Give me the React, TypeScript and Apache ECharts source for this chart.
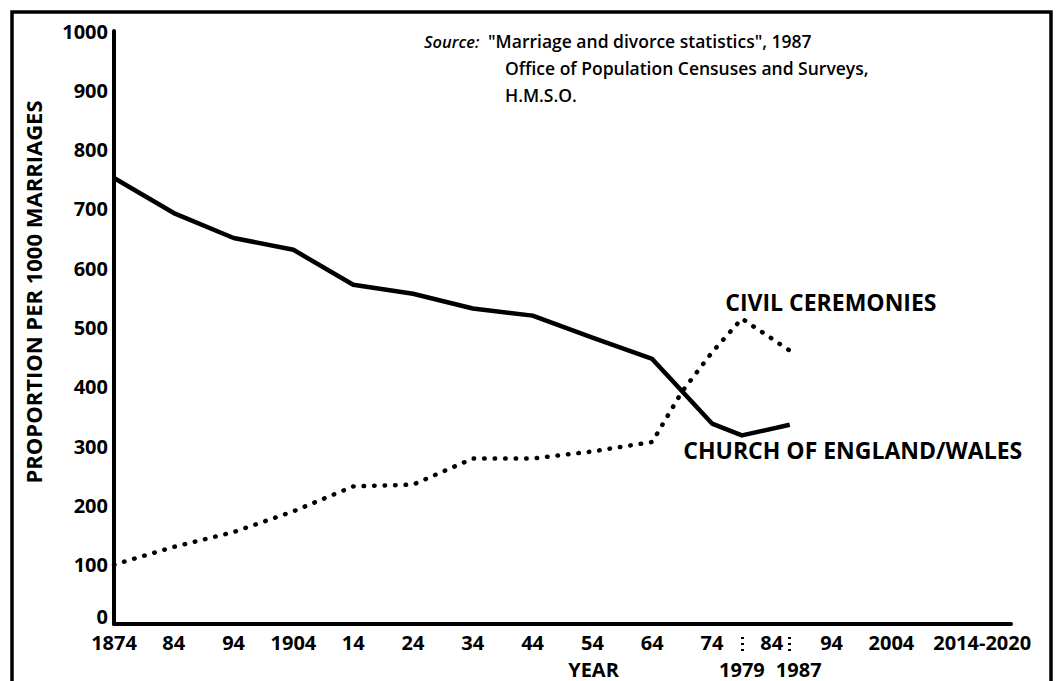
import React, { useEffect, useRef } from "react";
import * as echarts from "echarts";

const FONT = "'Open Sans', 'DejaVu Sans', sans-serif";

const churchYears = [1874, 1884, 1894, 1904, 1914, 1924, 1934, 1944, 1954, 1964, 1974, 1979, 1987];
const churchValues = [752, 693, 651, 631, 572, 557, 532, 520, 483, 447, 338, 318, 336];

const civilYears = [1874, 1884, 1894, 1904, 1914, 1924, 1934, 1944, 1954, 1964, 1969, 1974, 1979, 1987];
const civilValues = [100, 130, 155, 190, 232, 235, 279, 279, 291, 307, 392, 458, 515, 461];

const markedYears = [1979, 1987];
const yAxisTitle = "PROPORTION PER 1000 MARRIAGES";
const xAxisTitle = "YEAR";
const churchLabel = "CHURCH OF ENGLAND/WALES";
const civilLabel = "CIVIL CEREMONIES";
const sourceLabel = "Source:";
const sourceLines = [
  '"Marriage and divorce statistics", 1987',
  "Office of Population Censuses and Surveys,",
  "H.M.S.O.",
];

function tickLabel(v: number): string {
  if (v === 1874 || v === 1904 || v === 2004) return String(v);
  if (v === 2014) return "{w|2014-2020}";
  if (v > 2014) return "";
  return String(v % 100).padStart(2, "0");
}

export default function App() {
  const ref = useRef<HTMLDivElement>(null);
  useEffect(() => {
    document.body.style.margin = "0";
    const chart = echarts.init(ref.current!, null, { renderer: "svg" });
    const labelStyle = {
      color: "#000",
      fontFamily: FONT,
      fontWeight: "bold" as const,
      fontSize: 20,
      lineHeight: 16,
    };
    const church = churchYears.map((y, i) => {
      const item: any = { value: [y, churchValues[i]] };
      if (i === churchYears.length - 1) {
        item.label = {
          show: true,
          position: "bottom",
          offset: [63, 5],
          formatter: churchLabel,
          ...labelStyle,
          fontSize: 23,
          lineHeight: 30,
        };
      }
      return item;
    });
    const civil = civilYears.map((y, i) => {
      const item: any = { value: [y, civilValues[i]] };
      if (y === 1979) {
        item.label = {
          show: true,
          position: "top",
          offset: [89, 3],
          formatter: civilLabel,
          ...labelStyle,
          fontSize: 23,
          lineHeight: 30,
        };
      }
      return item;
    });
    const markAxis = (year: number, pad: number, withName: boolean) => ({
      type: "value",
      min: 1874,
      max: 2024,
      position: "bottom",
      offset: 13,
      axisLine: { show: false },
      splitLine: { show: false },
      axisTick: {
        show: true,
        customValues: [year],
        length: 18,
        lineStyle: { color: "#000", width: 3, type: [2, 4] },
      },
      axisLabel: {
        ...labelStyle,
        customValues: [year],
        margin: 24,
        showMinLabel: true,
        showMaxLabel: true,
        formatter: (v: number) => (pad ? `{r|${v}}` : String(v)),
        rich: { r: { ...labelStyle, padding: [0, 0, 0, pad] } },
      },
      ...(withName
        ? {
            name: xAxisTitle,
            nameLocation: "middle",
            nameGap: 24,
            nameMoveOverlap: false,
            nameTextStyle: { ...labelStyle, padding: [0, 0, 0, 62] },
          }
        : {}),
    });
    chart.setOption({
      animation: false,
      backgroundColor: "#fff",
      grid: { left: 114, right: 47, top: 31, bottom: 57, outerBoundsMode: "none", containLabel: false },
      xAxis: [
        {
          type: "value",
          min: 1874,
          max: 2024,
          interval: 10,
          axisLine: { show: true, lineStyle: { color: "#000", width: 4 } },
          axisTick: { show: false },
          splitLine: { show: false },
          axisLabel: {
            ...labelStyle,
            margin: 10,
            showMinLabel: true,
            showMaxLabel: true,
            formatter: tickLabel,
            rich: { w: { ...labelStyle, padding: [0, 0, 0, 62] } },
          },
        },
        markAxis(markedYears[0], 0, true),
        markAxis(markedYears[1], 18, false),
      ],
      yAxis: {
        type: "value",
        min: 0,
        max: 1000,
        interval: 100,
        axisLine: { show: true, lineStyle: { color: "#000", width: 4 } },
        axisTick: { show: false },
        splitLine: { show: false },
        axisLabel: {
          ...labelStyle,
          margin: 6,
          showMinLabel: true,
          showMaxLabel: true,
          formatter: (v: number) => (v === 0 ? "0\n" : String(v)),
        },
      },
      series: [
        {
          type: "line",
          name: churchLabel,
          data: church,
          showSymbol: true,
          symbol: "circle",
          symbolSize: 0,
          lineStyle: { color: "#000", width: 4.5, join: "round" },
          itemStyle: { color: "#000" },
        },
        {
          type: "line",
          name: civilLabel,
          data: civil,
          showSymbol: true,
          symbol: "circle",
          symbolSize: 0,
          lineStyle: { color: "#000", width: 4.5, type: [0.5, 10], cap: "round" },
          itemStyle: { color: "#000" },
        },
      ],
      graphic: [
        {
          type: "rect",
          shape: { x: 12, y: 12, width: 1039, height: 720 },
          style: { fill: "none", stroke: "#000", lineWidth: 3.5 },
          silent: true,
        },
        {
          type: "text",
          x: 33,
          y: 292,
          rotation: Math.PI / 2,
          style: {
            text: yAxisTitle,
            fill: "#000",
            font: `bold 22px ${FONT}`,
            align: "center",
            verticalAlign: "middle",
          },
        },
        {
          type: "text",
          x: 424,
          y: 41,
          style: {
            text: sourceLabel,
            fill: "#000",
            font: `italic 600 16.5px ${FONT}`,
            align: "left",
            verticalAlign: "middle",
          },
        },
        {
          type: "text",
          x: 488,
          y: 41,
          style: {
            text: sourceLines[0],
            fill: "#000",
            font: `600 17.5px ${FONT}`,
            align: "left",
            verticalAlign: "middle",
          },
        },
        {
          type: "text",
          x: 505,
          y: 68,
          style: {
            text: sourceLines[1],
            fill: "#000",
            font: `600 17.5px ${FONT}`,
            align: "left",
            verticalAlign: "middle",
          },
        },
        {
          type: "text",
          x: 505,
          y: 95,
          style: {
            text: sourceLines[2],
            fill: "#000",
            font: `600 17.5px ${FONT}`,
            align: "left",
            verticalAlign: "middle",
          },
        },
      ],
    });
    return () => chart.dispose();
  }, []);
  return <div ref={ref} style={{ width: 1058, height: 681 }} />;
}
